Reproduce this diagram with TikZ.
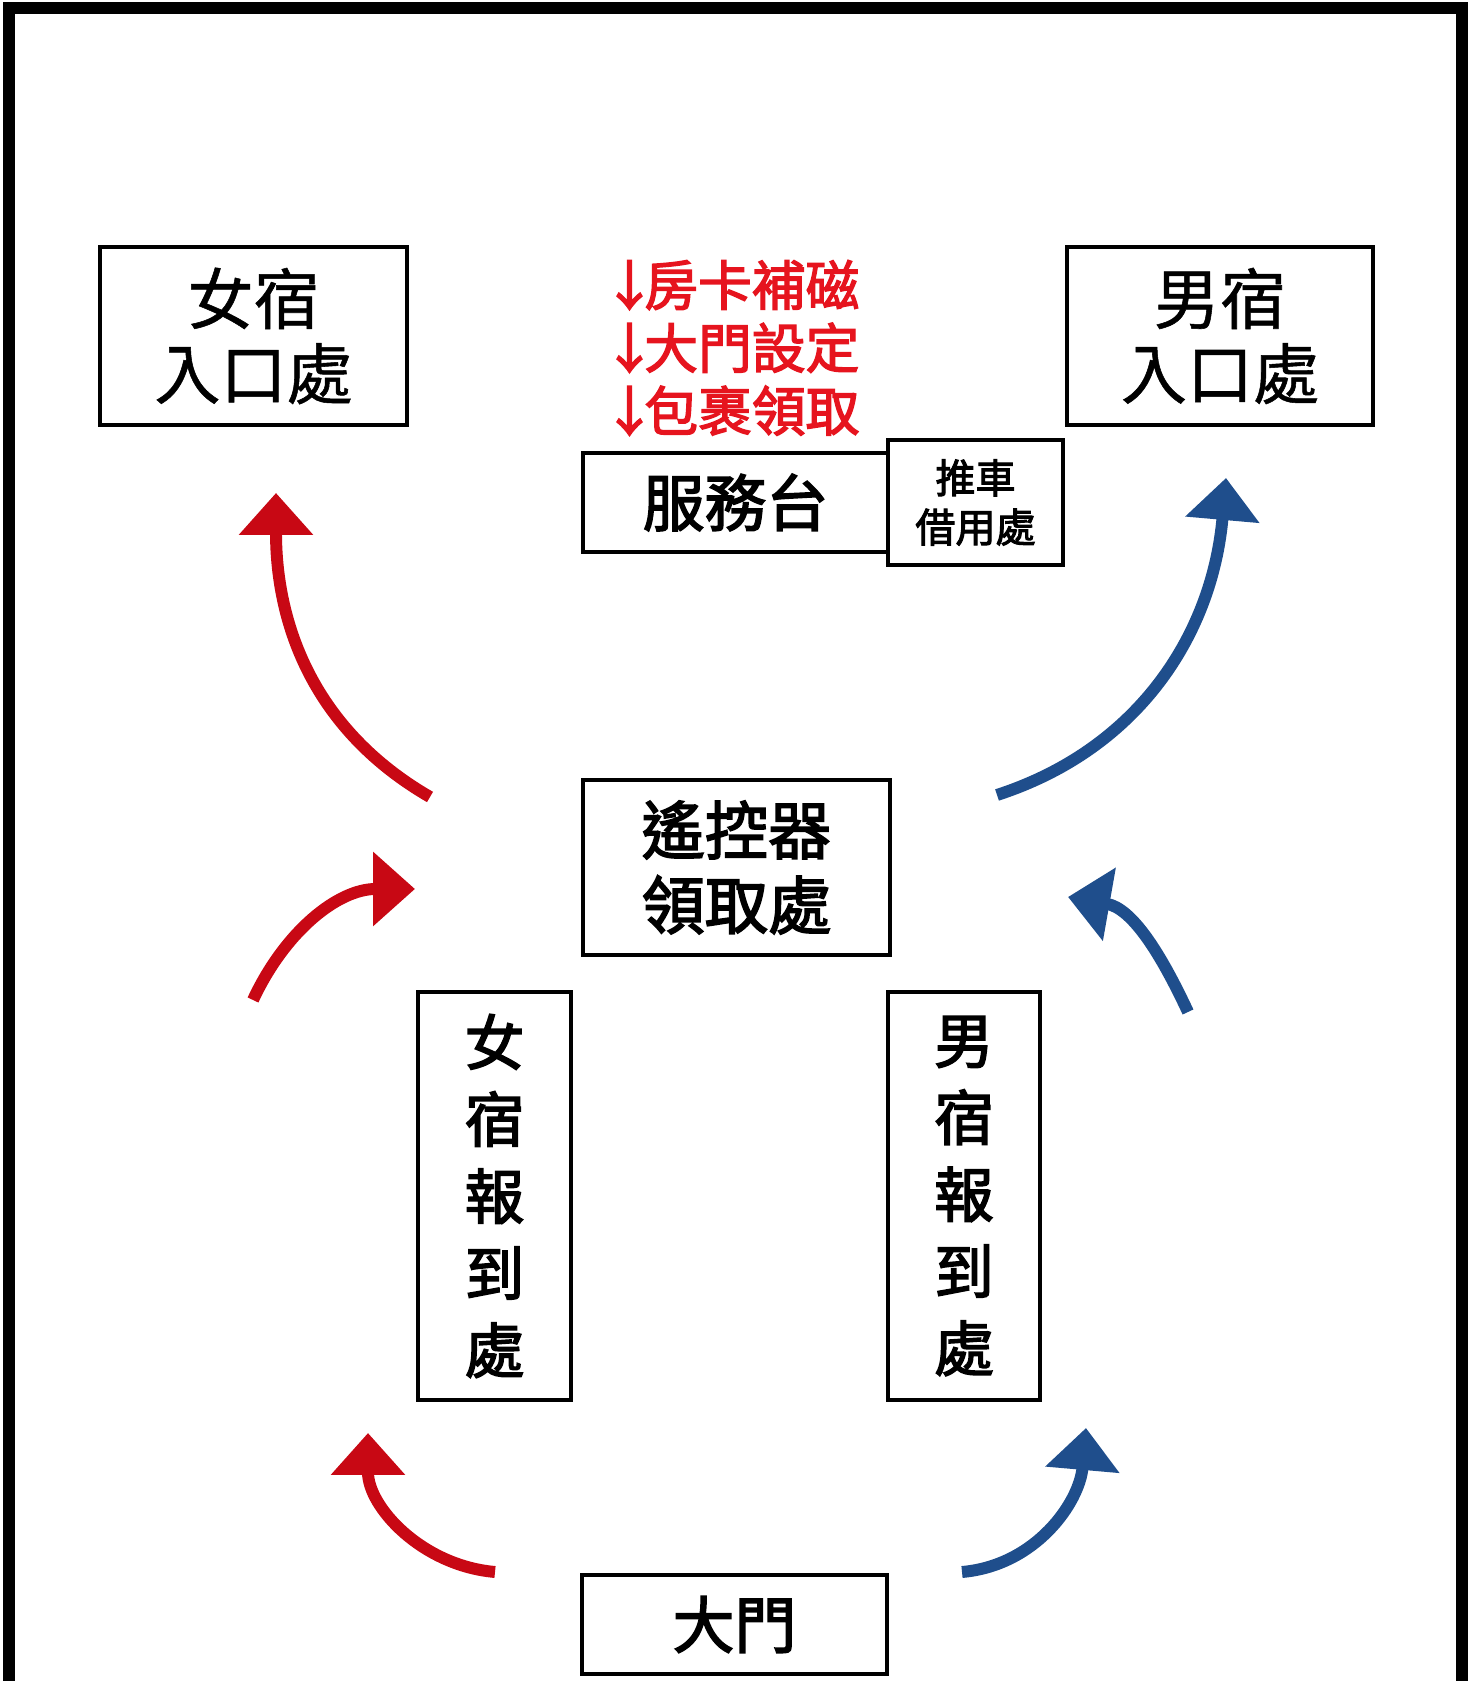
\documentclass[tikz,border=0pt]{standalone}
\usepackage{fontspec}
\setmainfont{Noto Sans CJK TC}[FakeBold=0.8, BoldFont=Noto Sans CJK TC, BoldFeatures={FakeBold=2.5}]
\usetikzlibrary{arrows.meta}
\definecolor{arrowred}{RGB}{200,8,20}
\definecolor{arrowblue}{RGB}{31,78,140}
\definecolor{notered}{RGB}{230,20,30}
\tikzset{
  box/.style={draw, line width=1.3pt, inner sep=0pt, align=center},
  flow/.style={line width=3.4pt, -{Triangle[width=0.72cm,length=0.42cm]}},
}
\begin{document}
\begin{tikzpicture}
        \useasboundingbox (0,0) rectangle (14.75,16.81);
        \draw[line width=3.4pt] (0.09,0) -- (0.09,16.725) -- (14.62,16.725) -- (14.62,0);

        \node[box, minimum width=3.07cm, minimum height=1.78cm, font=\fontsize{18.8}{21.3}\selectfont] (femEntry) at (2.535,13.45) {女宿\\入口處};
        \node[box, minimum width=3.06cm, minimum height=1.78cm, font=\fontsize{18.8}{21.3}\selectfont] (maleEntry) at (12.20,13.45) {男宿\\入口處};
        \node[align=left, anchor=west, inner sep=0pt, text=notered, font=\bfseries\fontsize{15.3}{17.9}\selectfont] (notes) at (6.14,13.33) {\makebox[0.55em]{↓}房卡補磁\\\makebox[0.55em]{↓}大門設定\\\makebox[0.55em]{↓}包裹領取};
        \node[box, minimum width=3.05cm, minimum height=0.99cm, font=\bfseries\fontsize{17.6}{20}\selectfont] (desk) at (7.355,11.785) {服務台};
        \node[box, minimum width=1.75cm, minimum height=1.25cm, font=\bfseries\fontsize{11.4}{14}\selectfont] (cart) at (9.755,11.785) {推車\\借用處};
        \node[box, minimum width=3.07cm, minimum height=1.75cm, font=\bfseries\fontsize{18}{21.3}\selectfont] (remote) at (7.365,8.135) {遙控器\\領取處};
        \node[box, minimum width=1.53cm, minimum height=4.08cm, font=\bfseries\fontsize{17}{21.9}\selectfont] (femCheck) at (4.945,4.85) {女\\宿\\報\\到\\處};
        \node[box, minimum width=1.52cm, minimum height=4.08cm, font=\bfseries\fontsize{17}{21.9}\selectfont] (maleCheck) at (9.64,4.85) {男\\宿\\報\\到\\處};
        \node[box, minimum width=3.05cm, minimum height=0.99cm, font=\bfseries\fontsize{17.6}{20}\selectfont] (gate) at (7.345,0.565) {大門};

        \coordinate (femTopStart) at (4.30,8.84);
        \coordinate (femTopEnd) at (2.76,11.88);
        \coordinate (femMidStart) at (2.53,6.81);
        \coordinate (femMidEnd) at (4.15,7.92);
        \coordinate (femLowStart) at (4.95,1.09);
        \coordinate (femLowEnd) at (3.68,2.48);
        \coordinate (maleTopStart) at (9.97,8.86);
        \coordinate (maleTopEnd) at (12.26,12.03);
        \coordinate (maleMidStart) at (11.88,6.69);
        \coordinate (maleMidEnd) at (10.68,7.84);
        \coordinate (maleLowStart) at (9.62,1.09);
        \coordinate (maleLowEnd) at (10.86,2.53);

        \draw[flow, arrowred] (femTopStart) to[out=150, in=-90] (femTopEnd);
        \draw[flow, arrowred] (femMidStart) to[out=65, in=180] (femMidEnd);
        \draw[flow, arrowred] (femLowStart) to[out=175, in=-90] (femLowEnd);
        \draw[flow, arrowblue] (maleTopStart) to[out=18, in=-95] (maleTopEnd);
        \draw[flow, arrowblue] (maleMidStart) to[out=115, in=-10] (maleMidEnd);
        \draw[flow, arrowblue] (maleLowStart) to[out=5, in=-95] (maleLowEnd);

    \end{tikzpicture}
\end{document}
